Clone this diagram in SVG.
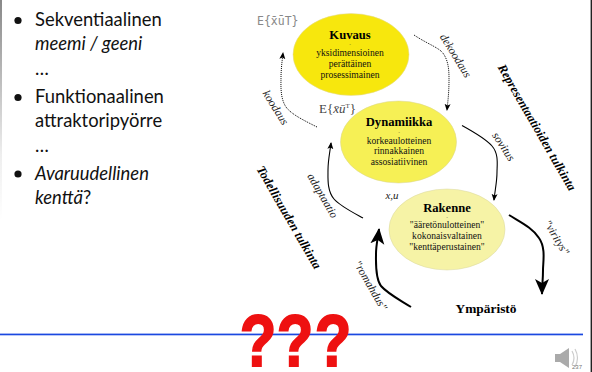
<svg xmlns="http://www.w3.org/2000/svg" width="592" height="372" viewBox="0 0 592 372">
<style>
.b{font-family:Lato,"Liberation Sans",sans-serif;font-size:18.4px;fill:#111}
.i{font-style:italic}
.s{font-family:"Liberation Serif",serif;font-size:9.6px;fill:#111;text-anchor:middle}
.d{font-family:"Liberation Serif",serif;font-size:5px;fill:#333;text-anchor:middle}
.h{font-family:"Liberation Serif",serif;font-size:12.6px;font-weight:bold;fill:#000;text-anchor:middle}
.l{font-family:"Liberation Serif",serif;font-size:11.5px;font-style:italic;fill:#222;text-anchor:middle}
.t{font-family:"Liberation Serif",serif;font-size:12.6px;font-style:italic;font-weight:bold;fill:#000;text-anchor:middle}
.c{fill:none;stroke:#000}
.q{font-family:"Liberation Sans",sans-serif;font-weight:bold;font-size:60px;fill:#ee1111;stroke:#ee1111;stroke-width:1.5;text-anchor:middle}
</style>
<defs>
<linearGradient id="g" x1="0" y1="0" x2="0" y2="1"><stop offset="0" stop-color="#888"/><stop offset="0.7" stop-color="#eee"/><stop offset="1" stop-color="#fff"/></linearGradient>
<marker id="a1" markerWidth="8" markerHeight="8" refX="6" refY="3" orient="auto" markerUnits="userSpaceOnUse"><path d="M0 0L7 3L0 6L1.500 3Z" fill="#000"/></marker>
<marker id="a2" markerWidth="18" markerHeight="16" refX="15" refY="7" orient="auto" markerUnits="userSpaceOnUse"><path d="M0 0L16 7L0 14L4 7Z" fill="#000"/></marker>
</defs>
<rect width="592" height="372" fill="#fff"/>
<rect x="0" y="0" width="2" height="220" fill="url(#g)"/>
<rect x="590.600" y="0" width="1.400" height="372" fill="#222"/>

<g id="bullets">
<circle cx="18" cy="20.500" r="3.600" fill="#111"/>
<circle cx="18" cy="97.500" r="3.600" fill="#111"/>
<circle cx="18" cy="174" r="3.600" fill="#111"/>
<text class="b" x="35" y="26">Sekventiaalinen</text>
<text class="b i" x="35" y="50">meemi / geeni</text>
<text class="b" x="35" y="75">…</text>
<text class="b" x="35" y="103">Funktionaalinen</text>
<text class="b" x="35" y="127">attraktoripyörre</text>
<text class="b" x="35" y="152">…</text>
<text class="b i" x="35" y="180">Avaruudellinen</text>
<text class="b" x="35" y="204"><tspan class="i">kenttä</tspan>?</text>
</g>

<g id="connectors">
<path class="c" stroke-dasharray="1 1" d="M414 35C426 43 437 47 442 52C449 60 449 72 449 80C449 92 448 100 447 110" marker-end="url(#a1)"/>
<path class="c" stroke-dasharray="1 1" d="M317 127C303 120 291 114 286 107C280 98 281 85 281 78C281 70 282 62 283 53" marker-end="url(#a1)"/>
<path class="c" d="M462 125.500C472 131 486 139 492 146C499 154 497 165 497 172C497 182 495 190 494 200" stroke-width="1.100" marker-end="url(#a1)"/>
<path class="c" d="M363 218C352 212 340 206 334 199C327 191 328 178 328 170C328 160 330 152 331 143" stroke-width="1.100" marker-end="url(#a1)"/>
<path class="c" d="M509 215C520 222 533 228 539 238C546 248 543 262 543 270C543 280 542 286 542 294" stroke-width="2" marker-end="url(#a2)"/>
<path class="c" d="M411 307C400 300 388 294 381 286C375 278 376 262 376 254C376 245 378 238 379 229" stroke-width="2" marker-end="url(#a2)"/>
</g>

<g id="kuvaus">
<ellipse cx="351" cy="54.500" rx="58" ry="41" fill="#f7e70d" stroke="#e0d8a0" stroke-width="0.500"/>
<text class="h" x="350" y="38.500">Kuvaus</text>
<text class="d" x="350" y="46">-</text>
<text class="s" x="350" y="56">yksidimensioinen</text>
<text class="s" x="350" y="66.700">perättäinen</text>
<text class="s" x="350" y="77.500">prosessimainen</text>
</g>
<g id="dynamiikka">
<ellipse cx="398.500" cy="142" rx="58" ry="41" fill="#f6f055" stroke="#d8d490" stroke-width="0.500"/>
<text class="h" x="399" y="126">Dynamiikka</text>
<text class="d" x="399" y="134">-</text>
<text class="s" x="399" y="143.500">korkeaulotteinen</text>
<text class="s" x="399" y="153.500">rinnakkainen</text>
<text class="s" x="399" y="164.500">assosiatiivinen</text>
</g>
<g id="rakenne">
<ellipse cx="447" cy="229.500" rx="58" ry="40.500" fill="#f6f3a6" stroke="#d8d6a0" stroke-width="0.500"/>
<text class="h" x="447" y="211.700">Rakenne</text>
<text class="d" x="447" y="219">-</text>
<text class="s" x="447" y="228">"ääretönulotteinen"</text>
<text class="s" x="447" y="239">kokonaisvaltainen</text>
<text class="s" x="447" y="250">"kenttäperustainen"</text>
</g>
<g id="ymparisto"><text class="h" x="486" y="312.500" style="font-size:13.400px">Ympäristö</text></g>

<g id="labels">
<text x="257" y="25" font-family="'DejaVu Sans Mono',monospace" font-size="11.500" fill="#888">E{x̄ūT}</text>
<text x="319" y="113" font-family="'Liberation Serif',serif" font-size="13" fill="#444">E{<tspan font-style="italic">x̄ū</tspan><tspan font-size="7" dy="-5">T</tspan><tspan dy="5">}</tspan></text>
<text x="392" y="199" font-family="'Liberation Serif',serif" font-size="11" font-style="italic" fill="#222" text-anchor="middle">x,u</text>
<text class="l" dy="3" transform="translate(455 56) rotate(58)">dekoodaus</text>
<text class="l" dy="3" transform="translate(275 108) rotate(58)">koodaus</text>
<text class="l" dy="3" transform="translate(503 147) rotate(57)">sovitus</text>
<text class="l" dy="3" transform="translate(322 196) rotate(60)">adaptaatio</text>
<text class="l" dy="3" transform="translate(556 238) rotate(59)">"viritys"</text>
<text class="l" dy="3" transform="translate(370 286) rotate(60)">"romahdus"</text>
<text class="t" dy="3" transform="translate(536 128) rotate(60)">Representaatioiden tulkinta</text>
<text class="t" dy="3" transform="translate(288 218) rotate(60)">Todellisuuden tulkinta</text>
</g>

<rect x="0" y="333.600" width="583" height="1.700" fill="#1a48e0"/>
<g id="marks">
<text class="q" x="258" y="367" transform="translate(0 -78) scale(1 1.210)">?</text>
<text class="q" x="295" y="367" transform="translate(0 -78) scale(1 1.210)">?</text>
<text class="q" x="333" y="367" transform="translate(0 -78) scale(1 1.210)">?</text>
</g>
<g id="speaker">
<path d="M555 354H560L569 348V368L560 362H555Z" fill="#aaa"/>
<path d="M572 351Q576 358 572 365M575 349Q580 358 575 367" fill="none" stroke="#ccc" stroke-width="1.200"/>
<text x="577" y="369" font-family="'Liberation Sans',sans-serif" font-size="6" fill="#777" text-anchor="middle">237</text>
</g>
</svg>
